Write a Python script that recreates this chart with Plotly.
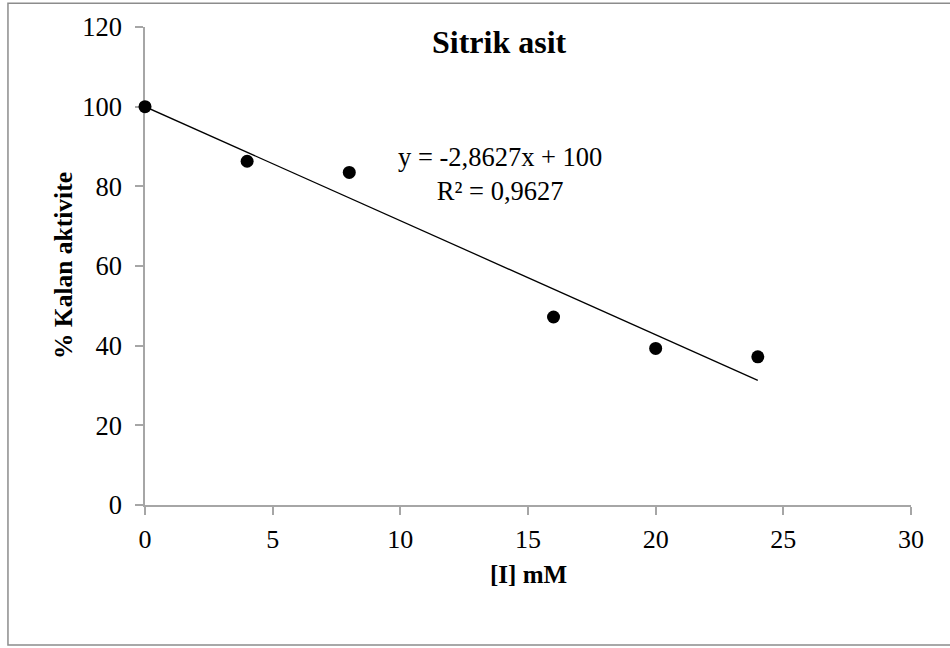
import plotly.graph_objects as go

# Inhibitor concentration (mM) and remaining activity (%)
concentration = [0, 4, 8, 16, 20, 24]
activity = [100, 86.3, 83.5, 47.2, 39.3, 37.2]

# Linear trendline parameters
slope = -2.8627
intercept = 100
trend_x = [concentration[0], concentration[-1]]
trend_y = [slope * x + intercept for x in trend_x]

x_ticks = [0, 5, 10, 15, 20, 25, 30]
y_ticks = [0, 20, 40, 60, 80, 100, 120]

serif = "Liberation Serif, Times New Roman, serif"
axis_grey = "#a6a6a6"

fig = go.Figure()

fig.add_trace(go.Scatter(
    x=trend_x, y=trend_y, mode="lines",
    line=dict(color="black", width=1.3),
    hoverinfo="skip", showlegend=False,
))

fig.add_trace(go.Scatter(
    x=concentration, y=activity, mode="markers",
    marker=dict(color="black", size=13, symbol="circle"),
    cliponaxis=False, showlegend=False,
))

fig.update_layout(
    width=950, height=648,
    margin=dict(l=145, r=39, t=27, b=143),
    paper_bgcolor="white", plot_bgcolor="white",
    font=dict(family=serif, size=26, color="black"),
    xaxis=dict(
        range=[0, 30], tickvals=x_ticks, ticktext=[str(v) for v in x_ticks],
        showgrid=False, zeroline=False,
        showline=True, linecolor=axis_grey, linewidth=1.5,
        ticks="outside", ticklen=8, tickcolor=axis_grey, tickwidth=1.5,
        tickfont=dict(family=serif, size=26, color="black"),
        ticklabelstandoff=2, layer="below traces",
    ),
    yaxis=dict(
        range=[0, 120], tickvals=y_ticks, ticktext=[str(v) for v in y_ticks],
        showgrid=False, zeroline=False,
        showline=True, linecolor=axis_grey, linewidth=1.5,
        ticks="outside", ticklen=8, tickcolor=axis_grey, tickwidth=1.5,
        tickfont=dict(family=serif, size=26.5, color="black"),
        ticklabelstandoff=8, layer="below traces",
    ),
    annotations=[
        dict(text="<b>Sitrik asit</b>", xref="paper", yref="paper",
             x=0.4634, y=0.968, xanchor="center", yanchor="middle",
             showarrow=False, font=dict(family=serif, size=32, color="black")),
        dict(text="<b>[I] mM</b>", xref="paper", yref="paper",
             x=0.5, y=-0.146, xanchor="center", yanchor="middle",
             showarrow=False, font=dict(family=serif, size=25, color="black")),
        dict(text="<b>% Kalan aktivite</b>", xref="paper", yref="paper",
             x=-0.107, y=0.5, xanchor="center", yanchor="middle", textangle=-90,
             showarrow=False, font=dict(family=serif, size=25.5, color="black")),
        dict(text=f"y = {slope:.4f}x + {intercept}".replace(".", ",")
             + "<br>R² = 0,9627",
             xref="x", yref="y", x=13.9, y=83.0, xanchor="center", yanchor="middle",
             align="center", showarrow=False,
             font=dict(family=serif, size=26.5, color="black")),
    ],
    shapes=[
        dict(type="rect", xref="paper", yref="paper",
             x0=-0.1789, x1=1.12, y0=-0.2927, y1=1.0496,
             line=dict(color="#8c8c8c", width=1.5), fillcolor="rgba(0,0,0,0)",
             layer="below"),
    ],
)

fig.write_html("out.html")
